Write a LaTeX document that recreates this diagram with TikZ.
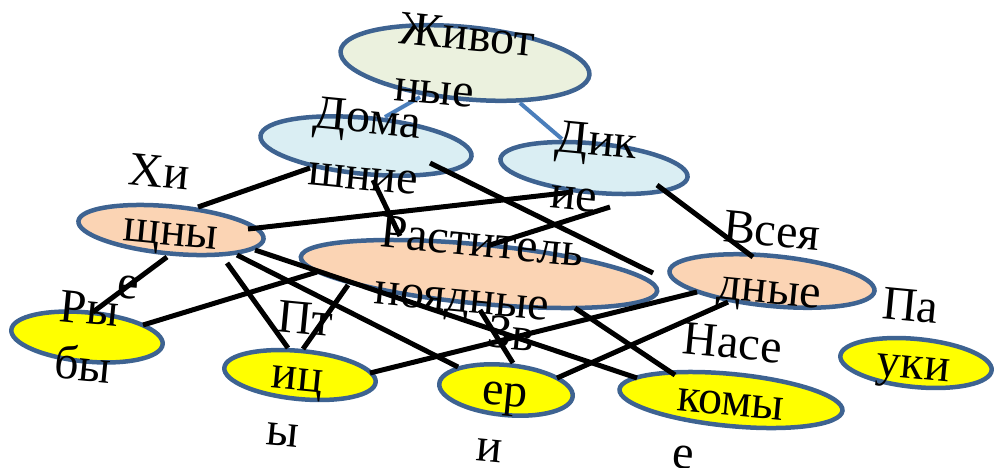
\documentclass[tikz,border=0pt]{standalone}
\usepackage{fontspec}
\setmainfont{Liberation Serif}
\usetikzlibrary{positioning,calc,shapes.geometric}

\definecolor{rim}{HTML}{3E6391}
\definecolor{tiecol}{HTML}{4A7EBB}
\definecolor{olive}{HTML}{EBF1DE}
\definecolor{sky}{HTML}{DAEEF3}
\definecolor{peach}{HTML}{FBD4B4}
\definecolor{lemon}{HTML}{FFFF00}

\tikzset{
  oval/.style={ellipse, draw=rim, line width=4.5pt, inner sep=0, rotate=-5.5},
  txt/.style={rotate=-5.5, align=left, inner sep=0, font=\fontsize{48}{57}\selectfont},
  link/.style={line width=5pt},
  tie/.style={line width=4pt, tiecol},
}

\begin{document}
\begin{tikzpicture}[x=1pt, y=-1pt]
  \useasboundingbox (0,0) rectangle (995,467);

  \node[name=zhiv, oval, fill=olive, minimum width=250, minimum height=72] at (465,63) {};
  \node[name=dom, oval, fill=sky, minimum width=212, minimum height=56] at (366,146) {};
  \node[name=dik, oval, fill=sky, minimum width=188, minimum height=49] at (594,168) {};
  \node[name=hisch, oval, fill=peach, minimum width=186, minimum height=47] at (171,230) {};
  \node[name=rast, oval, fill=peach, minimum width=358, minimum height=59] at (479,274) {};
  \node[name=vse, oval, fill=peach, minimum width=206, minimum height=50] at (772,281) {};
  \node[name=ryby, oval, fill=lemon, minimum width=152, minimum height=49] at (87,337) {};
  \node[name=ptic, oval, fill=lemon, minimum width=152, minimum height=48] at (300,375) {};
  \node[name=zver, oval, fill=lemon, minimum width=134, minimum height=50] at (506,390) {};
  \node[name=nasek, oval, fill=lemon, minimum width=224, minimum height=52] at (731,400) {};
  \node[name=pauk, oval, fill=lemon, minimum width=152, minimum height=48] at (916,363) {};

  \draw[tie] ($(zhiv)+(-45,34)$) -- ($(dom)+(19,-29)$);
  \draw[tie] ($(zhiv)+(55,40)$) -- ($(dik)+(-32,-29)$);

  \draw[link] ($(hisch)+(27,-23)$) -- ($(dom)+(-56,22)$);
  \draw[link] ($(dom)+(7,34)$) -- ($(rast)+(-79,-38)$);
  \draw[link] ($(hisch)+(77,-1)$) -- ($(dik)+(-21,24)$);
  \draw[link] ($(dom)+(64,17)$) -- ($(vse)+(-119,-8)$);
  \draw[link] ($(rast)+(11,-29)$) -- ($(dik)+(16,39)$);
  \draw[link] ($(dik)+(63,17)$) -- ($(vse)+(-19,-24)$);
  \draw[link] ($(hisch)+(-4,27)$) -- ($(ryby)+(6,-25)$);
  \draw[link] ($(ryby)+(56,-12)$) -- ($(rast)+(-162,-2)$);
  \draw[link] ($(hisch)+(56,33)$) -- ($(ptic)+(-12,-27)$);
  \draw[link] ($(rast)+(-131,11)$) -- ($(ptic)+(3,-26)$);
  \draw[link] ($(hisch)+(66,25)$) -- ($(zver)+(-48,-23)$);
  \draw[link] ($(hisch)+(84,20)$) -- ($(nasek)+(-94,-22)$);
  \draw[link] ($(ptic)+(70,-2)$) -- ($(vse)+(-75,11)$);
  \draw[link] ($(zver)+(51,-12)$) -- ($(vse)+(-44,21)$);
  \draw[link] ($(rast)+(96,34)$) -- ($(nasek)+(-56,-25)$);
  \draw[link] ($(rast)+(1,36)$) -- ($(zver)+(7,-27)$);

  \node[name=zhivt, txt] at (zhiv.center) {Живот\\ные};
  \node[name=domt, txt] at (dom.center) {Дома\\шние};
  \node[name=dikt, txt] at (dik.center) {Дик\\ие};
  \node[name=hischt, txt] at (hisch.center) {Хи\\щны\\е};
  \node[name=rastt, txt] at (rast.center) {Раститель\\ноядные};
  \node[name=vset, txt] at ($(vse)+(0,-17)$) {Всея\\дные};
  \node[name=rybyt, txt] at (ryby.center) {Ры\\бы};
  \node[name=ptict, txt] at (ptic.center) {Пт\\иц\\ы};
  \node[name=zvert, txt] at (zver.center) {Зв\\ер\\и};
  \node[name=nasekt, txt] at (nasek.center) {Насе\\комы\\е};
  \node[name=paukt, txt] at ($(pauk)+(0,-23)$) {Па\\уки};
\end{tikzpicture}
\end{document}
